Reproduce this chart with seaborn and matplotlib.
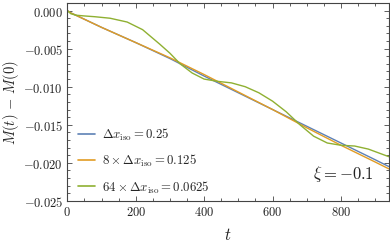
import numpy as np
import pandas as pd
import matplotlib
matplotlib.use("Agg")
import matplotlib.pyplot as plt
import seaborn as sns
from matplotlib.ticker import MultipleLocator, FuncFormatter

# values
t_blue = [0, 10, 20, 100, 200, 300, 400, 500, 600, 700, 800, 900, 940]
m_blue = [0.0, -0.0003, -0.0005, -0.0022, -0.0042, -0.0063, -0.0086, -0.0108,
          -0.0130, -0.0152, -0.0174, -0.0196, -0.0205]

t_orange = [0, 10, 20, 100, 200, 300, 400, 500, 600, 700, 800, 900, 940]
m_orange = [0.0, -0.0003, -0.0005, -0.0022, -0.0042, -0.0062, -0.0084, -0.0107,
            -0.0130, -0.0154, -0.0177, -0.0199, -0.0208]

t_green = [0, 10, 25, 50, 80, 125, 175, 220, 270, 300, 330, 365, 400, 440, 480,
           520, 560, 600, 640, 680, 720, 760, 800, 840, 880, 910, 940]
m_green = [0.0, -0.0004, -0.0006, -0.0007, -0.0008, -0.0010, -0.0015, -0.0025,
           -0.0044, -0.0056, -0.0070, -0.0082, -0.0090, -0.0093, -0.0095,
           -0.0100, -0.0108, -0.0119, -0.0133, -0.0150, -0.0165, -0.0174,
           -0.0177, -0.0178, -0.0182, -0.0187, -0.0192]

labels = [r'$\Delta x_{\rm iso} = 0.25$',
          r'$8 \times \Delta x_{\rm iso} = 0.125$',
          r'$64 \times \Delta x_{\rm iso} = 0.0625$']
colors = ['#5E81B5', '#E19C24', '#8FB032']

frames = []
for tt, mm, lab in zip([t_blue, t_orange, t_green], [m_blue, m_orange, m_green], labels):
    frames.append(pd.DataFrame({'t': tt, 'M': mm, 'run': lab}))
df = pd.concat(frames, ignore_index=True)

sns.set_theme(style="ticks")
plt.rcParams['mathtext.fontset'] = 'cm'
plt.rcParams['font.family'] = ['DejaVu Serif']

fig = plt.figure(figsize=(3.9, 2.51), dpi=100)
ax = fig.add_axes([0.1726, 0.196, 0.8244, 0.788])

sns.lineplot(data=df, x='t', y='M', hue='run', palette=colors, linewidth=1.0,
             ax=ax, legend=True, sort=False)

ax.set_xlim(0, 940)
ax.set_ylim(-0.025, 0.001)
ax.xaxis.set_major_locator(MultipleLocator(200))
ax.xaxis.set_minor_locator(MultipleLocator(50))
ax.yaxis.set_major_locator(MultipleLocator(0.005))
ax.yaxis.set_minor_locator(MultipleLocator(0.001))


def fmt_x(v, pos):
    return r'$%d$' % round(v)


def fmt_y(v, pos):
    return r'$%.3f$' % v if abs(v) > 1e-9 else r'$0.000$'


ax.xaxis.set_major_formatter(FuncFormatter(fmt_x))
ax.yaxis.set_major_formatter(FuncFormatter(fmt_y))
ax.tick_params(which='both', direction='in', top=True, right=True,
               labelsize=9, colors='#444444', labelcolor='#222222', width=0.6)
ax.tick_params(which='major', length=3.5, pad=3)
ax.tick_params(which='minor', length=2)
for s in ax.spines.values():
    s.set_color('#444444')
    s.set_linewidth(0.8)

ax.set_xlabel(r'$t$', fontsize=12, labelpad=6, color='#222222')
ax.set_ylabel(r'$M(t)\,-\,M(0)$', fontsize=10.5, labelpad=2, color='#222222')

ax.text(0.955, 0.14, r'$\xi = -0.1$', transform=ax.transAxes, ha='right',
        va='center', fontsize=12, color='#222222')

leg = ax.legend(loc='lower left', frameon=False, fontsize=9.2, handlelength=1.4,
                labelspacing=0.78, handletextpad=0.5, borderaxespad=0.4,
                bbox_to_anchor=(0.0, -0.02))
for line in leg.get_lines():
    line.set_linewidth(1.2)

fig.savefig('out.png', dpi=100)
